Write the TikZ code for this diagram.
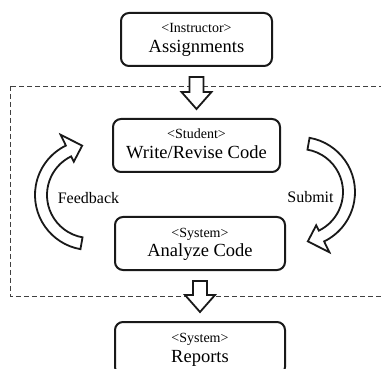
\documentclass[tikz,border=0pt]{standalone}
\usepackage{fontspec}
\setmainfont{Liberation Serif}
\usetikzlibrary{calc}
\newcommand\blockdown[2]{%
  \draw[blockarr] let \p1=(#1.south), \p2=(#2.north) in
    (\x1-7pt,\y1-10pt) -- (\x1+7pt,\y1-10pt) -- (\x1+7pt,\y2+26pt) --
    (\x1+15pt,\y2+26pt) -- (\x1,\y2+9pt) -- (\x1-15pt,\y2+26pt) --
    (\x1-7pt,\y2+26pt) -- cycle;}
\newcommand\bendshape{%
  (-80:55) arc[start angle=-80, end angle=64, radius=55] -- (64:67) -- (81:50)
  -- (64:37) -- (64:43) arc[start angle=64, end angle=-80, radius=43] -- cycle}
\begin{document}
\begin{tikzpicture}[x=1pt,y=-1pt,
  box/.style={draw=black!90, line width=2pt, rounded corners=8pt, minimum height=53pt, inner sep=0pt, fill=white},
  role/.style={font=\fontsize{14}{16}\selectfont, inner sep=0pt, anchor=base},
  title/.style={font=\fontsize{18.5}{21}\selectfont, inner sep=0pt, anchor=base},
  lbl/.style={font=\fontsize{16}{19}\selectfont, inner sep=0pt, anchor=base},
  blockarr/.style={draw=black!90, line width=1.8pt, fill=white, line join=miter},
  bendarr/.style={draw=black!90, line width=1.8pt, fill=white, line join=miter},
  frame/.style={draw=black!75, line width=0.9pt, dash pattern=on 5pt off 3pt}]
\useasboundingbox (0,0) rectangle (381,369);
\clip (0,0) rectangle (381,369);
\draw[frame] (10,86) rectangle (395,296);
% boxes
\node[box, minimum width=151pt] (assign) at (196.5,39.5) {};
\node[box, minimum width=167pt] (write) at (196.5,145.5) {};
\node[box, minimum width=170pt] (analyze) at (200,243.5) {};
\node[box, minimum width=170pt] (reports) at (200,348.5) {};
% texts
\node[role] (assign-r) at ([yshift=-21pt]assign.north) {<Instructor>};
\node[title] (assign-t) at ([yshift=-41pt]assign.north) {Assignments};
\node[role] (write-r) at ([yshift=-21pt]write.north) {<Student>};
\node[title] (write-t) at ([yshift=-41pt]write.north) {Write/Revise Code};
\node[role] (analyze-r) at ([yshift=-21pt]analyze.north) {<System>};
\node[title] (analyze-t) at ([yshift=-41pt]analyze.north) {Analyze Code};
\node[role] (reports-r) at ([yshift=-21pt]reports.north) {<System>};
\node[title] (reports-t) at ([yshift=-41pt]reports.north) {Reports};
% block arrows
\blockdown{assign}{write}
\blockdown{analyze}{reports}
% curved arrows
\begin{scope}[shift={(300,192)}]
  \draw[bendarr] \bendshape;
\end{scope}
\begin{scope}[shift={(90,195)}, rotate=180]
  \draw[bendarr] \bendshape;
\end{scope}
\node[lbl] (feedback) at (88.5,204) {Feedback};
\node[lbl] (submit) at (310.5,203) {Submit};
\end{tikzpicture}
\end{document}
